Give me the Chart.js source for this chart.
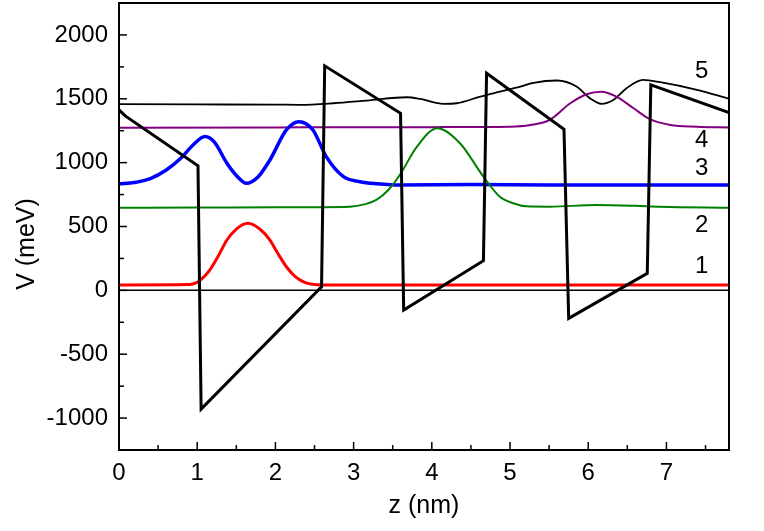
<!DOCTYPE html>
<html>
<head>
<meta charset="utf-8">
<script src="https://cdn.jsdelivr.net/npm/chart.js@4.4.1/dist/chart.umd.min.js"></script>
<style>
  body { margin: 0; background: #fff; }
  #wrap { width: 764px; height: 531px; }
</style>
</head>
<body>
<div id="wrap"><canvas id="chart" width="764" height="531"></canvas></div>
<script>
// band edge potential (thick black)
const potZ = [0, 0.08, 1.01, 1.05, 2.59, 2.63, 3.60, 3.64, 4.66, 4.70, 5.69, 5.75, 6.755, 6.80, 7.8];
const potV = [1413, 1366, 976, -930, 28, 1758, 1387, -154, 232, 1700, 1262, -219, 133, 1609, 1392];

// level 1 (red)
const lvl1Z = [0, 0.9, 0.99, 1.05, 1.16, 1.27, 1.38, 1.5, 1.65, 1.8, 1.93, 2.03, 2.14, 2.25, 2.36, 2.45, 2.62, 4, 6, 7.8];
const lvl1V = [42, 45, 60, 85, 159, 270, 394, 480, 525, 480, 394, 290, 185, 110, 67, 50, 42, 42, 42, 42];

// level 2 (green)
const lvl2Z = [0, 1, 2, 2.95, 3.15, 3.29, 3.45, 3.59, 3.81, 4.07, 4.36, 4.66, 4.87, 5.05, 5.21, 5.51, 6.1, 6.6, 6.92, 7.8];
const lvl2V = [647, 648, 650, 655, 675, 708, 790, 903, 1125, 1270, 1152, 890, 733, 680, 658, 655, 668, 662, 655, 647];

// level 3 (blue)
const lvl3Z = [0, 0.2, 0.4, 0.6, 0.8, 0.95, 1.10, 1.22, 1.38, 1.5, 1.63, 1.78, 1.93, 2.14, 2.30, 2.48, 2.65, 2.87, 3.08, 3.3, 3.6, 4.5, 5.5, 6.5, 7.8];
const lvl3V = [835, 845, 875, 940, 1040, 1140, 1204, 1160, 995, 900, 838, 890, 1021, 1256, 1321, 1256, 1047, 890, 851, 835, 825, 828, 825, 825, 825];

// level 4 (purple)
const lvl4Z = [0, 2, 4, 5.0, 5.26, 5.51, 5.77, 5.98, 6.17, 6.36, 6.58, 6.79, 7.05, 7.39, 7.8];
const lvl4V = [1274, 1276, 1278, 1282, 1295, 1335, 1465, 1536, 1556, 1517, 1426, 1340, 1295, 1282, 1276];

// level 5 (thin black)
const lvl5Z = [0, 1, 2.0, 2.315, 2.74, 3.17, 3.68, 3.85, 4.15, 4.32, 4.62, 4.87, 5.13, 5.30, 5.60, 5.85, 6.02, 6.17, 6.32, 6.49, 6.70, 6.92, 7.39, 7.8];
const lvl5V = [1458, 1456, 1454, 1453, 1465, 1486, 1512, 1499, 1460, 1465, 1517, 1556, 1596, 1625, 1643, 1596, 1505, 1460, 1491, 1583, 1648, 1630, 1570, 1500];

// zero reference line
const zeroZ = [0, 7.8];
const zeroV = [0, 0];

// level number labels
const tagText = ["1", "2", "3", "4", "5"];
const tagZ = [7.45, 7.45, 7.45, 7.45, 7.45];
const tagV = [185, 512, 956, 1178, 1713];

const FONT = "'Liberation Sans', Arial, Helvetica, sans-serif";

const pts = (zs, vs) => zs.map((z, i) => ({ x: z, y: vs[i] }));

const curve = (zs, vs, color, width, order) => ({
  data: pts(zs, vs),
  borderColor: color,
  borderWidth: width,
  pointRadius: 0,
  fill: false,
  cubicInterpolationMode: "monotone",
  order: order,
});

const framePlugin = {
  id: "frame",
  afterDraw(chart) {
    const ctx = chart.ctx;
    const a = chart.chartArea;
    const xs = chart.scales.x;
    const ys = chart.scales.y;
    ctx.save();
    ctx.strokeStyle = "#000";
    ctx.lineWidth = 2;
    ctx.strokeRect(a.left, a.top, a.right - a.left, a.bottom - a.top);

    // inward ticks
    ctx.lineWidth = 1.5;
    xs.ticks.forEach((t) => {
      const px = xs.getPixelForValue(t.value);
      const len = Number.isInteger(t.value) ? 8 : 5;
      ctx.beginPath();
      ctx.moveTo(px, a.bottom);
      ctx.lineTo(px, a.bottom - len);
      ctx.stroke();
    });
    ys.ticks.forEach((t) => {
      const py = ys.getPixelForValue(t.value);
      const len = t.value % 500 === 0 ? 8 : 5;
      ctx.beginPath();
      ctx.moveTo(a.left, py);
      ctx.lineTo(a.left + len, py);
      ctx.stroke();
    });

    // level numbers
    ctx.fillStyle = "#000";
    ctx.font = "24px " + FONT;
    ctx.textAlign = "center";
    ctx.textBaseline = "middle";
    tagText.forEach((s, i) => {
      ctx.fillText(s, xs.getPixelForValue(tagZ[i]), ys.getPixelForValue(tagV[i]));
    });

    // y axis title
    ctx.translate(27, 244);
    ctx.rotate(-Math.PI / 2);
    ctx.font = "25px " + FONT;
    ctx.fillText("V (meV)", 0, 0);
    ctx.restore();
  },
};

new Chart(document.getElementById("chart"), {
  type: "line",
  data: {
    datasets: [
      curve(zeroZ, zeroV, "#000", 1.5, 2),
      curve(lvl1Z, lvl1V, "#ff0000", 3, 1),
      curve(lvl2Z, lvl2V, "#008000", 2, 1),
      curve(lvl3Z, lvl3V, "#0000ff", 3.5, 1),
      curve(lvl4Z, lvl4V, "#800080", 2, 1),
      curve(lvl5Z, lvl5V, "#000", 1.8, 1),
      {
        data: pts(potZ, potV),
        borderColor: "#000",
        borderWidth: 3,
        pointRadius: 0,
        tension: 0,
        fill: false,
        order: 0,
      },
    ],
  },
  options: {
    responsive: false,
    animation: false,
    layout: { padding: { top: 3, right: 35, left: 0, bottom: 0 } },
    plugins: { legend: { display: false }, tooltip: { enabled: false } },
    scales: {
      x: {
        type: "linear",
        min: 0,
        max: 7.8,
        border: { display: false },
        grid: { display: false, drawTicks: false },
        ticks: {
          stepSize: 0.5,
          includeBounds: false,
          autoSkip: false,
          maxRotation: 0,
          padding: 9,
          color: "#000",
          font: { family: FONT, size: 24 },
          callback: (v) => (Number.isInteger(v) ? v : ""),
        },
        title: {
          display: true,
          text: "z (nm)",
          color: "#000",
          font: { family: FONT, size: 25 },
          padding: { top: 0, bottom: 10 },
        },
        afterFit: (s) => {
          s.height = 81;
          s.paddingLeft = 0;
          s.paddingRight = 0;
        },
      },
      y: {
        type: "linear",
        min: -1250,
        max: 2250,
        border: { display: false },
        grid: { display: false, drawTicks: false },
        ticks: {
          stepSize: 250,
          includeBounds: false,
          autoSkip: false,
          padding: 11,
          color: "#000",
          font: { family: FONT, size: 24 },
          callback: (v) => (v % 500 === 0 ? v : ""),
        },
        afterFit: (s) => {
          s.width = 119;
          s.paddingTop = 0;
          s.paddingBottom = 0;
        },
      },
    },
  },
  plugins: [framePlugin],
});
</script>
</body>
</html>
